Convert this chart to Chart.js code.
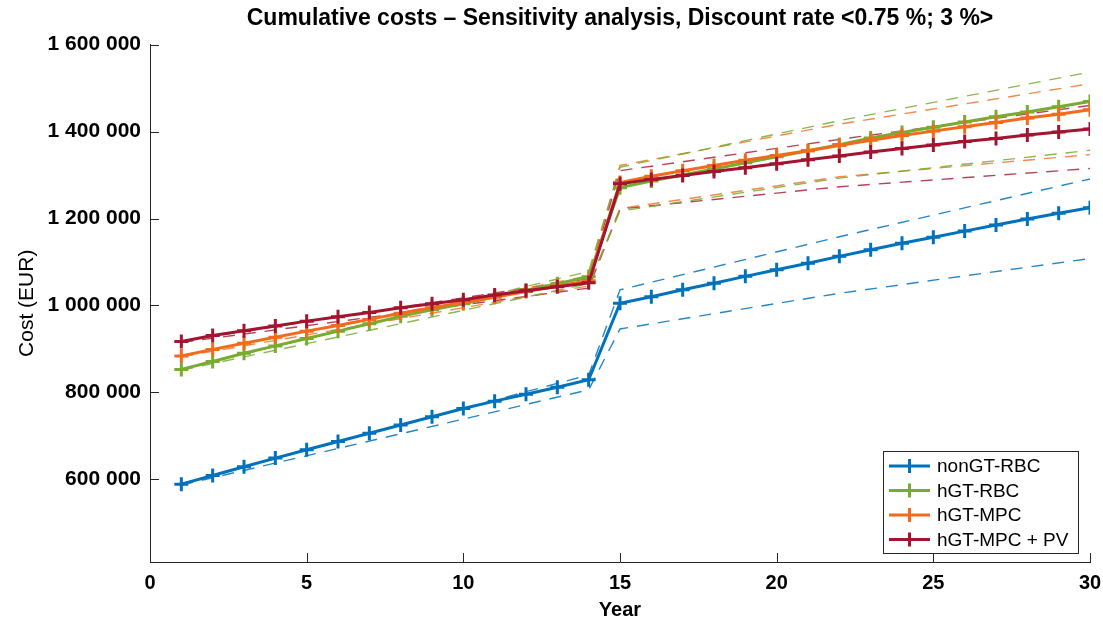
<!DOCTYPE html>
<html>
<head>
<meta charset="utf-8">
<script src="https://cdn.jsdelivr.net/npm/chart.js@4.4.1/dist/chart.umd.min.js"></script>
<style>
  html, body { margin: 0; padding: 0; background: #ffffff; }
  #wrap { width: 1103px; height: 622px; }
</style>
</head>
<body>
<div id="wrap"><canvas id="c" width="1103" height="622"></canvas></div>
<script>
// ---- Data ----
const years = [1,2,3,4,5,6,7,8,9,10,11,12,13,14,15,16,17,18,19,20,21,22,23,24,25,26,27,28,29,30];

const seriesLabels = ['nonGT-RBC', 'hGT-RBC', 'hGT-MPC', 'hGT-MPC + PV'];

const nonGT_RBC = [589000, 609000, 629000, 649000, 668000, 687000, 706000, 725000, 744000, 763000,
                   780000, 796000, 812000, 829000, 1005000, 1020000, 1036000, 1051000, 1067000, 1082000,
                   1097000, 1113000, 1128000, 1143000, 1157000, 1171000, 1185000, 1199000, 1212000, 1225000];
const hGT_RBC   = [853000, 871000, 890000, 907000, 924000, 941000, 958000, 975000, 990000, 1004000,
                   1020000, 1035000, 1050000, 1066000, 1271000, 1286000, 1300000, 1314000, 1328000, 1342000,
                   1356000, 1370000, 1385000, 1398000, 1410000, 1422000, 1434000, 1445000, 1457000, 1469000];
const hGT_MPC   = [884000, 899000, 913000, 927000, 941000, 954000, 968000, 982000, 995000, 1007000,
                   1019000, 1032000, 1045000, 1057000, 1283000, 1297000, 1310000, 1322000, 1334000, 1345000,
                   1356000, 1368000, 1380000, 1391000, 1401000, 1411000, 1421000, 1431000, 1440000, 1450000];
const hGT_MPC_PV= [917000, 931000, 942000, 953000, 964000, 974000, 984000, 995000, 1004000, 1013000,
                   1024000, 1034000, 1043000, 1052000, 1280000, 1290000, 1299000, 1308000, 1317000, 1326000,
                   1335000, 1344000, 1353000, 1361000, 1369000, 1377000, 1384000, 1392000, 1399000, 1406000];

// Sensitivity bounds (dashed), read at a few years
const sensYears = [1, 14, 15, 22, 30];
const nonGT_RBC_low   = [587000,  806000,  946000, 1028000, 1108000];
const nonGT_RBC_high  = [590000,  840000, 1036000, 1158000, 1291000];
const hGT_RBC_low     = [851000, 1050000, 1217000, 1293000, 1357000];
const hGT_RBC_high    = [854000, 1078000, 1318000, 1425000, 1537000];
const hGT_MPC_low     = [882000, 1045000, 1223000, 1296000, 1347000];
const hGT_MPC_high    = [885000, 1068000, 1322000, 1417000, 1510000];
const hGT_MPC_PV_low  = [915000, 1040000, 1222000, 1273000, 1315000];
const hGT_MPC_PV_high = [918000, 1062000, 1310000, 1382000, 1460000];

const xTicks = [0, 5, 10, 15, 20, 25, 30];
const yTicks = [600000, 800000, 1000000, 1200000, 1400000, 1600000];

const colors = ['#0072BD', '#77AC30', '#F26B1D', '#A2142F'];
const dashColors = ['rgba(0,114,189,0.85)', 'rgba(119,172,48,0.85)', 'rgba(242,107,29,0.8)', 'rgba(162,20,47,0.8)'];

// ---- Build datasets ----
function pts(xs, ys) { return xs.map((x, i) => ({ x: x, y: ys[i] })); }

const mainSeries = [nonGT_RBC, hGT_RBC, hGT_MPC, hGT_MPC_PV];
const lowSeries  = [nonGT_RBC_low, hGT_RBC_low, hGT_MPC_low, hGT_MPC_PV_low];
const highSeries = [nonGT_RBC_high, hGT_RBC_high, hGT_MPC_high, hGT_MPC_PV_high];
const drawOrder = [3, 2, 1, 0]; // red on top

const datasets = [];
mainSeries.forEach((s, i) => {
  datasets.push({
    label: seriesLabels[i],
    data: pts(years, s),
    borderColor: colors[i],
    backgroundColor: colors[i],
    borderWidth: 3,
    pointStyle: 'cross',
    pointRadius: 7,
    pointBorderWidth: 3,
    pointBorderColor: colors[i],
    pointHoverRadius: 7,
    tension: 0,
    order: drawOrder[i],
    isMain: true
  });
});
[lowSeries, highSeries].forEach((group, g) => {
  group.forEach((s, i) => {
    datasets.push({
      label: seriesLabels[i] + (g === 0 ? ' (low)' : ' (high)'),
      data: pts(sensYears, s),
      borderColor: dashColors[i],
      borderWidth: 1.4,
      borderDash: [12, 9],
      pointRadius: 0,
      tension: 0,
      order: 10 + i,
      isMain: false
    });
  });
});

// ---- Plugins ----
const inwardTicks = {
  id: 'inwardTicks',
  afterDatasetsDraw(chart) {
    const ctx = chart.ctx;
    const xs = chart.scales.x, ys = chart.scales.y;
    const a = chart.chartArea;
    ctx.save();
    ctx.strokeStyle = '#262626';
    ctx.lineWidth = 1;
    xTicks.forEach(v => {
      const px = Math.round(xs.getPixelForValue(v)) + 0.5;
      ctx.beginPath(); ctx.moveTo(px, a.bottom); ctx.lineTo(px, a.bottom - 9); ctx.stroke();
    });
    yTicks.forEach(v => {
      const py = Math.round(ys.getPixelForValue(v)) + 0.5;
      ctx.beginPath(); ctx.moveTo(a.left, py); ctx.lineTo(a.left + 9, py); ctx.stroke();
    });
    ctx.restore();
  }
};

const boxLegend = {
  id: 'boxLegend',
  afterDraw(chart) {
    const ctx = chart.ctx;
    const a = chart.chartArea;
    const w = 195, h = 102;
    const x0 = a.right - 12 - w, y0 = a.bottom - 9 - h;
    ctx.save();
    ctx.fillStyle = '#ffffff';
    ctx.fillRect(x0, y0, w, h);
    ctx.strokeStyle = '#262626';
    ctx.lineWidth = 1;
    ctx.strokeRect(Math.round(x0) + 0.5, Math.round(y0) + 0.5, w, h);
    ctx.font = '19px "Liberation Sans", Arial, sans-serif';
    ctx.textBaseline = 'middle';
    ctx.fillStyle = '#000000';
    const main = chart.data.datasets.filter(d => d.isMain);
    main.forEach((d, i) => {
      const cy = y0 + 15 + i * 24.5;
      ctx.strokeStyle = d.borderColor;
      ctx.lineWidth = 3;
      ctx.beginPath(); ctx.moveTo(x0 + 6, cy); ctx.lineTo(x0 + 47, cy); ctx.stroke();
      ctx.lineWidth = 3;
      ctx.beginPath(); ctx.moveTo(x0 + 26.5, cy - 7); ctx.lineTo(x0 + 26.5, cy + 7); ctx.stroke();
      ctx.fillStyle = '#000000';
      ctx.fillText(d.label, x0 + 54, cy + 1);
    });
    ctx.restore();
  }
};

function fmt(v) {
  return String(Math.round(v)).replace(/\B(?=(\d{3})+(?!\d))/g, ' ');
}

new Chart(document.getElementById('c'), {
  type: 'line',
  data: { datasets: datasets },
  options: {
    responsive: false,
    animation: false,
    devicePixelRatio: 1,
    layout: { padding: { left: 0, right: 13, top: 0, bottom: 0 } },
    plugins: {
      legend: { display: false },
      tooltip: { enabled: false },
      title: {
        display: true,
        fullSize: false,
        text: 'Cumulative costs \u2013 Sensitivity analysis, Discount rate <0.75 %; 3 %>',
        color: '#000000',
        font: { family: '"Liberation Sans", Arial, sans-serif', size: 23, weight: 'bold', lineHeight: 1.2 },
        padding: { top: 5, bottom: 12 }
      }
    },
    scales: {
      x: {
        type: 'linear',
        min: 0, max: 30,
        afterBuildTicks(scale) { scale.ticks = xTicks.map(v => ({ value: v })); },
        afterFit(scale) { scale.height = 60; scale.paddingLeft = 0; scale.paddingRight = 0; },
        grid: { display: false },
        border: { display: true, color: '#262626', width: 1 },
        ticks: {
          padding: 1,
          color: '#000000',
          font: { family: '"Liberation Sans", Arial, sans-serif', size: 20, weight: 'bold' },
          maxRotation: 0,
          callback: v => String(v)
        },
        title: {
          display: true, text: 'Year', color: '#000000',
          font: { family: '"Liberation Sans", Arial, sans-serif', size: 20, weight: 'bold', lineHeight: 1.2 },
          padding: { top: 0, bottom: 0 }
        }
      },
      y: {
        type: 'linear',
        min: 410000, max: 1600000,
        afterBuildTicks(scale) { scale.ticks = yTicks.map(v => ({ value: v })); },
        afterFit(scale) { scale.width = 150; },
        grid: { display: false },
        border: { display: true, color: '#262626', width: 1 },
        ticks: {
          padding: 1,
          color: '#000000',
          font: { family: '"Liberation Sans", Arial, sans-serif', size: 21, weight: 'bold' },
          callback: v => fmt(v)
        },
        title: {
          display: true, text: 'Cost (EUR)', color: '#000000',
          font: { family: '"Liberation Sans", Arial, sans-serif', size: 21, weight: 'normal', lineHeight: 1.2 },
          padding: { top: 15, bottom: 0 }
        }
      }
    }
  },
  plugins: [inwardTicks, boxLegend]
});
</script>
</body>
</html>
